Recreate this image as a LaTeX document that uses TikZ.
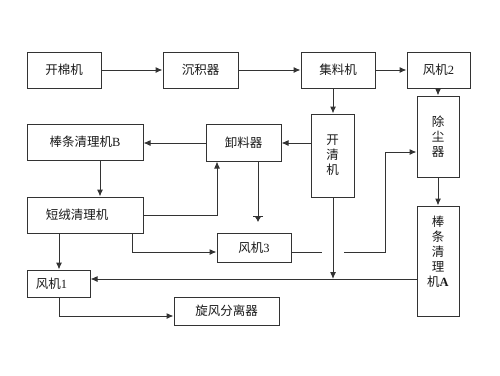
\documentclass[tikz,border=0pt]{standalone}
\usepackage{fontspec}
\setmainfont{Liberation Serif}
\newfontfamily\cjk{Noto Sans CJK SC}
\usetikzlibrary{arrows.meta}
\begin{document}
\begin{tikzpicture}[x=1pt,y=-1pt,
  line width=1pt,
  color=black!80,
  box/.style={draw=black!80,rectangle,inner sep=0pt,font=\fontsize{12.5}{15}\selectfont,text=black!90,align=center},
  arr/.style={-{Latex[length=7pt,width=6pt]}},
  barr/.style={-{Bar[width=10pt]Latex[length=5pt,width=6pt]}}]
\useasboundingbox (0,0) rectangle (500,375);
% boxes
\node[box,minimum width=74pt,minimum height=36pt] (kmj) at (64,70) {\cjk 开棉机};
\node[box,minimum width=75pt,minimum height=36pt] (cjq) at (200.5,70) {\cjk 沉积器};
\node[box,minimum width=74pt,minimum height=36pt] (jlj) at (338,70) {\cjk 集料机};
\node[box,minimum width=63pt,minimum height=36pt] (fj2) at (438.5,70) {{\cjk 风机}2};
\node[box,minimum width=42pt,minimum height=81pt] (ccq) at (438,136.5) {\cjk 除\\\cjk 尘\\\cjk 器};
\node[box,minimum width=43pt,minimum height=83pt] (kqj) at (332.5,155.5) {\cjk 开\\\cjk 清\\\cjk 机};
\node[box,minimum width=42pt,minimum height=110pt] (btA) at (438,261) {\cjk 棒\\\cjk 条\\\cjk 清\\\cjk 理\\{\cjk 机}\textbf{A}\\[4pt]};
\node[box,minimum width=116pt,minimum height=36pt] (btB) at (85,142) {{\cjk 棒条清理机}B};
\node[box,minimum width=75pt,minimum height=37pt] (xlq) at (243.5,142.5) {\cjk 卸料器};
\node[box,minimum width=116pt,minimum height=36pt] (drq) at (85,215) {\cjk 短绒清理机\hspace{16pt}};
\node[box,minimum width=74pt,minimum height=29pt] (fj3) at (254,247.5) {{\cjk 风机}3};
\node[box,minimum width=63pt,minimum height=27pt] (fj1) at (58.5,283.5) {{\cjk 风机}1\hspace{14pt}};
\node[box,minimum width=105pt,minimum height=28pt] (xfq) at (226.5,311) {\cjk 旋风分离器};
% coordinates
\coordinate (c9) at (217,215);
\coordinate (c10) at (258,222);
\coordinate (c12) at (132,252);
\coordinate (c13a) at (322,252);
\coordinate (c13b) at (344,252);
\coordinate (c13c) at (385,252);
\coordinate (c13d) at (385,152);
\coordinate (c14) at (333,279);
\coordinate (c16) at (59,316);
% connectors
\draw[arr] (kmj) -- (cjq);
\draw[arr] (cjq) -- (jlj);
\draw[arr] (jlj) -- (fj2);
\draw[arr] (fj2.south -| ccq) -- (ccq.north);
\draw[arr] (jlj.south -| c14) -- (kqj.north -| c14);
\draw[arr] (kqj.west |- 0,143) -- (xlq.east |- 0,143);
\draw[arr] (xlq.west |- 0,143) -- (btB.east |- 0,143);
\draw[arr] (btB.south -| 100,0) -- (drq.north -| 100,0);
\draw[arr] (drq.east |- c9) -- (c9) -- (xlq.south -| c9);
\draw[barr] (xlq.south -| c10) -- (c10);
\draw[arr] (drq.south -| 59,0) -- (fj1.north -| 59,0);
\draw[arr] (drq.south -| c12) -- (c12) -- (fj3.west |- c12);
\draw (fj3.east |- c13a) -- (c13a);
\draw[arr] (c13b) -- (c13c) -- (c13d) -- (ccq.west |- c13d);
\draw[arr] (kqj.south -| c14) -- (c14);
\draw[arr] (btA.west |- c14) -- (fj1.east |- c14);
\draw[arr] (fj1.south -| c16) -- (c16) -- (xfq.west |- c16);
\draw[arr] (ccq.south) -- (btA.north);
\end{tikzpicture}
\end{document}
